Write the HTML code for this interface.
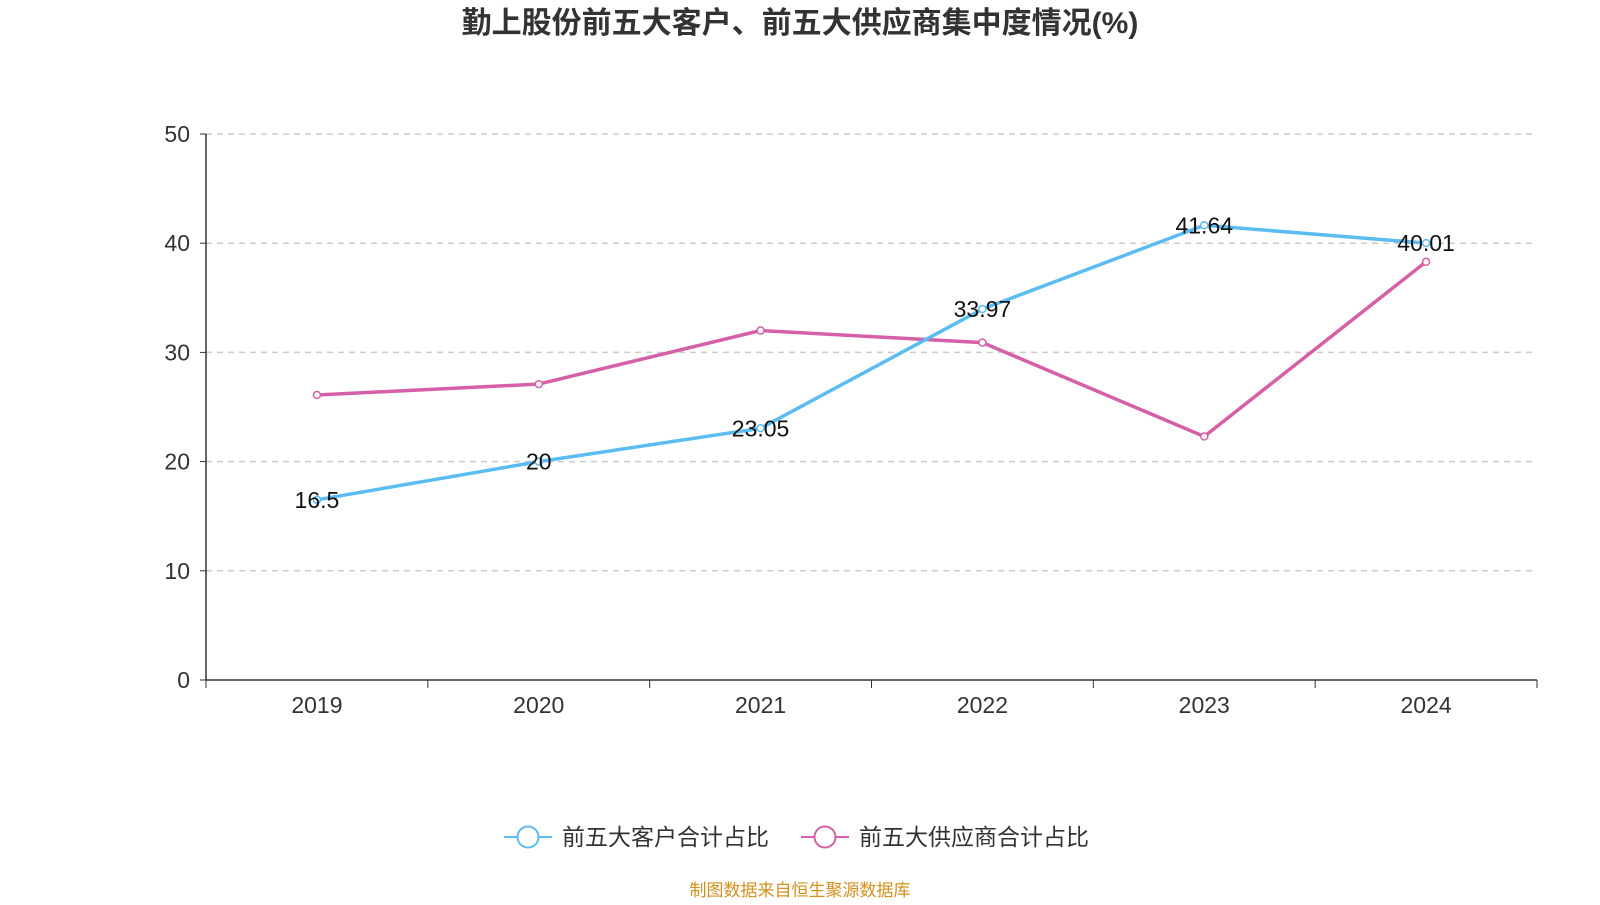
<!DOCTYPE html>
<html><head><meta charset="utf-8"><style>
body{margin:0;width:1600px;height:900px;background:#fff;overflow:hidden;font-family:"Liberation Sans","Noto Sans CJK SC",sans-serif}
</style></head><body>
<svg width="1600" height="900" id="c">
<text x="800" y="33" text-anchor="middle" font-size="30" font-weight="bold" fill="#333" font-family="Liberation Sans, Noto Sans CJK SC, sans-serif">勤上股份前五大客户、前五大供应商集中度情况(%)</text>
<g id="grid"></g><g id="axes"></g><g id="series"></g>
<g font-size="23" fill="#333" font-family="Liberation Sans, Noto Sans CJK SC, sans-serif">
<g><line x1="504" y1="837" x2="552" y2="837" stroke="#5bbcf2" stroke-width="2"/><circle cx="528" cy="837" r="10.5" fill="#fff" stroke="#5bbcf2" stroke-width="2"/><text x="562" y="845">前五大客户合计占比</text></g>
<g><line x1="801" y1="837" x2="849" y2="837" stroke="#d660a8" stroke-width="2"/><circle cx="825" cy="837" r="10.5" fill="#fff" stroke="#d660a8" stroke-width="2"/><text x="859" y="845">前五大供应商合计占比</text></g>
</g>
<text x="800" y="896" text-anchor="middle" font-size="17" fill="#d4901c" font-family="Liberation Sans, Noto Sans CJK SC, sans-serif">制图数据来自恒生聚源数据库</text>
</svg>
<script>
const categories=["2019","2020","2021","2022","2023","2024"];
const customers=[16.5,20,23.05,33.97,41.64,40.01];
const suppliers=[26.1,27.1,32.0,30.9,22.3,38.3];
const yTicks=[0,10,20,30,40,50];
const NS="http://www.w3.org/2000/svg";
const L=206,R=1537,T=134,B=680,yMax=50;
const bw=(R-L)/categories.length;
const x=i=>L+bw*(i+0.5);
const y=v=>B-(v/yMax)*(B-T);
function mk(p,tag,a){const e=document.createElementNS(NS,tag);for(const k in a)e.setAttribute(k,a[k]);p.appendChild(e);return e;}
const grid=document.getElementById('grid'),axes=document.getElementById('axes'),ser=document.getElementById('series');
yTicks.forEach(t=>{
 if(t>0){const g=mk(grid,'line',{x1:L,x2:R,y1:y(t),y2:y(t),stroke:'#ccc','stroke-dasharray':'6,5','stroke-width':1.5});
 
 }
 mk(axes,'line',{x1:L-6,x2:L,y1:y(t),y2:y(t),stroke:'#333'});
 const tx=mk(axes,'text',{x:L-16,y:y(t)+8,'text-anchor':'end','font-size':23,fill:'#333'});tx.textContent=t;
 
 
});
mk(axes,'line',{x1:L,x2:L,y1:T,y2:B,stroke:'#333','stroke-width':1.5});
mk(axes,'line',{x1:L,x2:R,y1:B,y2:B,stroke:'#333','stroke-width':1.5});
for(let i=0;i<=categories.length;i++)mk(axes,'line',{x1:L+bw*i,x2:L+bw*i,y1:B,y2:B+8,stroke:'#333'});
categories.forEach((c,i)=>{const t=mk(axes,'text',{x:x(i),y:B+33,'text-anchor':'middle','font-size':23,fill:'#333'});t.textContent=c;
 
 });
function draw(vals,color,name,labels){
 const p=mk(ser,'polyline',{points:vals.map((v,i)=>x(i)+','+y(v)).join(' '),fill:'none',stroke:color,'stroke-width':3.5});
 
 
 vals.forEach((v,i)=>{const c=mk(ser,'circle',{cx:x(i),cy:y(v),r:3.5,fill:'#fff',stroke:color,'stroke-width':1.5});
  
  
  if(labels){const t=mk(ser,'text',{x:x(i),y:y(v)+8,'text-anchor':'middle','font-size':23,fill:'#111'});t.textContent=v;
  
  }});
}
draw(suppliers,'#d660a8','suppliers',false);
draw(customers,'#5bbcf2','customers',true);
</script>
</body></html>
